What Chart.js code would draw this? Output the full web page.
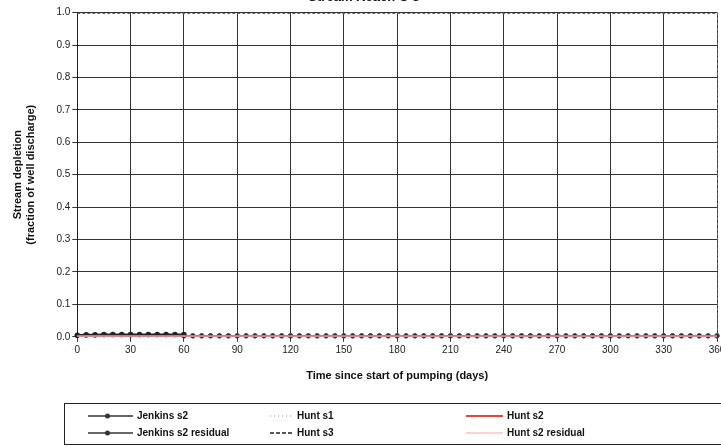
<!DOCTYPE html>
<html>
<head>
<meta charset="utf-8">
<script src="https://cdn.jsdelivr.net/npm/chart.js@4.4.0/dist/chart.umd.min.js"></script>
<style>
    html, body { margin: 0; padding: 0; background: #fff; overflow: hidden; }
    body { width: 721px; height: 446px; position: relative; }
    #wrap { position: absolute; left: 0; top: -10px; width: 740px; height: 456px; }
</style>
</head>
<body>
<div id="wrap"><canvas id="depletionChart" width="740" height="456"></canvas></div>
<script>
// Chart data
const days = [];
for (let d = 0; d <= 360; d += 5) days.push(d);

const jenkinsS2 = [0.005, 0.006, 0.006, 0.007, 0.007, 0.007, 0.007, 0.007, 0.007, 0.007, 0.007, 0.007, 0.007];
const jenkinsResidualDays = [60, 65, 70, 75, 80, 90, 100, 120, 150, 180, 210, 240, 270, 300, 330, 360];
const jenkinsResidual = [0.003, 0.003, 0.003, 0.003, 0.003, 0.003, 0.003, 0.003, 0.003, 0.003, 0.003, 0.003, 0.003, 0.003, 0.003, 0.003];
const huntS1 = [0.003, 0.003, 0.003, 0.003, 0.003, 0.003, 0.003, 0.003, 0.003, 0.003, 0.003, 0.003, 0.003];
const huntS2 = [0.002, 0.002, 0.002, 0.002, 0.002, 0.002, 0.002, 0.002, 0.002, 0.002, 0.002, 0.002, 0.002];
const huntS3 = [0.003, 0.003, 0.003, 0.003, 0.003, 0.003, 0.003, 0.003, 0.003, 0.003, 0.003, 0.003, 0.003];
const huntS2Residual = [0.002, 0.002, 0.002, 0.002, 0.002, 0.002, 0.002, 0.002, 0.002, 0.002, 0.002, 0.002, 0.002];
const seriesDays = [0, 30, 60, 90, 120, 150, 180, 210, 240, 270, 300, 330, 360];

const xTicks = [0, 30, 60, 90, 120, 150, 180, 210, 240, 270, 300, 330, 360];
const yTicks = [0, 0.1, 0.2, 0.3, 0.4, 0.5, 0.6, 0.7, 0.8, 0.9, 1.0];

const FONT = 'Arial, "Liberation Sans", sans-serif';

// marker days for the residual curve (every 5 days)
const markerDays = days.filter(d => d >= 60);

function pts(xs, ys) {
    return xs.map((x, i) => ({ x: x, y: ys[i] }));
}

// residual value at a day, taken from the nearest earlier reading
function residualAt(d) {
    let v = jenkinsResidual[0];
    jenkinsResidualDays.forEach((x, i) => { if (x <= d) v = jenkinsResidual[i]; });
    return v;
}
const jenkinsS2Days = days.filter(d => d <= 60);

// Legend entries drawn by hand to match the boxed 3-column layout
const legendItems = [
    { label: 'Jenkins s2', col: 0, row: 0, color: '#333', dash: [], marker: true, width: 1.5 },
    { label: 'Jenkins s2 residual', col: 0, row: 1, color: '#333', dash: [], marker: true, width: 1.5 },
    { label: 'Hunt s1', col: 1, row: 0, color: '#888', dash: [1, 3], marker: false, width: 1 },
    { label: 'Hunt s3', col: 1, row: 1, color: '#222', dash: [4, 2], marker: false, width: 1.5 },
    { label: 'Hunt s2', col: 2, row: 0, color: '#e8453c', dash: [], marker: false, width: 2 },
    { label: 'Hunt s2 residual', col: 2, row: 1, color: '#f4a8a0', dash: [], marker: false, width: 1 }
];

const boxLegend = {
    id: 'boxLegend',
    afterDraw(chart) {
        const ctx = chart.ctx;
        ctx.save();
        // frame
        ctx.strokeStyle = '#222';
        ctx.lineWidth = 1;
        ctx.strokeRect(64.5, 413.5, 670, 41);
        ctx.font = 'bold 10px ' + FONT;
        ctx.textBaseline = 'middle';
        const colLine = [[88, 133], [270, 293], [466, 503]];
        legendItems.forEach(it => {
            const y = 426 + it.row * 17;
            const [x0, x1] = colLine[it.col];
            ctx.strokeStyle = it.color;
            ctx.lineWidth = it.width;
            ctx.setLineDash(it.dash);
            ctx.beginPath();
            ctx.moveTo(x0, y);
            ctx.lineTo(x1, y);
            ctx.stroke();
            ctx.setLineDash([]);
            if (it.marker) {
                ctx.fillStyle = '#333';
                ctx.beginPath();
                ctx.arc((x0 + x1) / 2 - 3, y, 2.5, 0, Math.PI * 2);
                ctx.fill();
            }
            ctx.fillStyle = '#111';
            ctx.fillText(it.label, x1 + 4, y);
        });
        ctx.restore();
    }
};

// dashed frame on the top and right of the plot
const plotFrame = {
    id: 'plotFrame',
    beforeDatasetsDraw(chart) {
        const a = chart.chartArea;
        const ctx = chart.ctx;
        ctx.save();
        ctx.strokeStyle = '#666';
        ctx.lineWidth = 1;
        ctx.setLineDash([3, 2]);
        ctx.beginPath();
        ctx.moveTo(a.left, Math.round(a.top) + 0.5);
        ctx.lineTo(a.right, Math.round(a.top) + 0.5);
        ctx.moveTo(Math.round(a.right) + 0.5, a.top);
        ctx.lineTo(Math.round(a.right) + 0.5, a.bottom);
        ctx.stroke();
        ctx.restore();
    }
};

const ctx = document.getElementById('depletionChart').getContext('2d');
const chart = new Chart(ctx, {
    type: 'line',
    data: {
        datasets: [
            {
                label: 'Hunt s2 residual',
                data: pts(seriesDays, huntS2Residual),
                borderColor: '#f4a8a0',
                borderWidth: 1,
                pointRadius: 0,
                clip: false
            },
            {
                label: 'Hunt s1',
                data: pts(seriesDays, huntS1),
                borderColor: '#6c6cd8',
                borderWidth: 1.5,
                pointRadius: 0,
                clip: false
            },
            {
                label: 'Hunt s3',
                data: pts(seriesDays, huntS3),
                borderColor: '#333',
                borderWidth: 1,
                borderDash: [4, 2],
                pointRadius: 0,
                clip: false
            },
            {
                label: 'Hunt s2',
                data: pts(seriesDays, huntS2),
                borderColor: '#e8453c',
                borderWidth: 1.5,
                pointRadius: 0,
                clip: false
            },
            {
                label: 'Jenkins s2',
                data: jenkinsS2Days.map((d, i) => ({ x: d, y: jenkinsS2[i] })),
                borderColor: '#222',
                backgroundColor: '#222',
                borderWidth: 2,
                pointRadius: 1.8,
                clip: false
            },
            {
                label: 'Jenkins s2 residual',
                data: markerDays.map(d => ({ x: d, y: residualAt(d) })),
                borderColor: '#444',
                backgroundColor: '#2a2a3a',
                borderWidth: 1,
                pointRadius: 2.3,
                clip: false
            }
        ]
    },
    options: {
        responsive: false,
        animation: false,
        layout: { padding: { left: 11, top: 0, right: 23, bottom: 63 } },
        plugins: {
            legend: { display: false },
            tooltip: { enabled: false },
            title: {
                display: true,
                text: 'Stream Reach C-3',
                color: '#111',
                font: { family: FONT, size: 13, weight: 'bold' },
                padding: { top: 0, bottom: 7 }
            }
        },
        scales: {
            x: {
                type: 'linear',
                min: 0,
                max: 360,
                afterBuildTicks: axis => { axis.ticks = xTicks.map(v => ({ value: v })); },
                grid: { color: '#333', lineWidth: 1, tickLength: 5, drawTicks: true },
                border: { color: '#222', width: 1 },
                ticks: {
                    color: '#222',
                    font: { family: FONT, size: 10 },
                    maxRotation: 0,
                    padding: 2
                },
                title: {
                    display: true,
                    text: 'Time since start of pumping (days)',
                    color: '#111',
                    font: { family: FONT, size: 11, weight: 'bold' },
                    padding: { top: 12, bottom: 0 }
                }
            },
            y: {
                min: 0,
                max: 1,
                afterBuildTicks: axis => { axis.ticks = yTicks.map(v => ({ value: v })); },
                grid: { color: '#333', lineWidth: 1, tickLength: 5 },
                border: { color: '#222', width: 1 },
                ticks: {
                    color: '#222',
                    font: { family: FONT, size: 10 },
                    padding: 2,
                    callback: v => v.toFixed(1)
                },
                title: {
                    display: true,
                    text: ['Stream depletion', '(fraction of well discharge)'],
                    color: '#111',
                    font: { family: FONT, size: 11, weight: 'bold', lineHeight: 1.2 },
                    padding: { top: 0, bottom: 17 }
                }
            }
        }
    },
    plugins: [plotFrame, boxLegend]
});
</script>
</body>
</html>
